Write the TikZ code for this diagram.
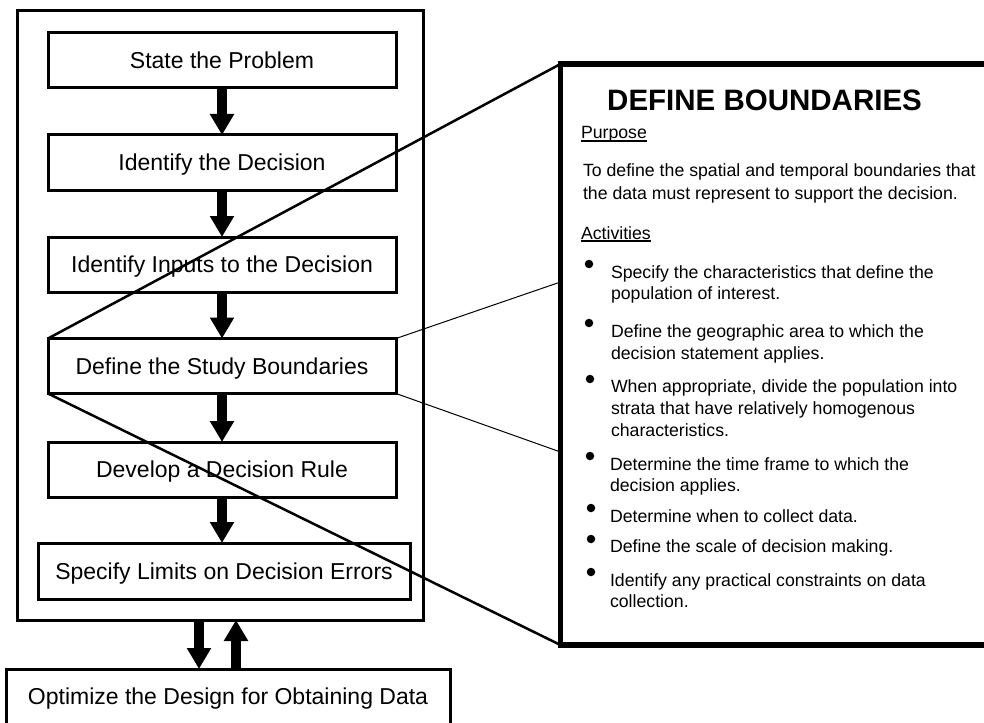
\documentclass[tikz,border=0pt]{standalone}
\usepackage{fontspec}
\setmainfont{Liberation Sans}
\usetikzlibrary{arrows.meta}
\begin{document}
\begin{tikzpicture}[x=1pt,y=-1pt,
  stepbox/.style={draw,line width=3pt,fill=white,minimum width=348pt,minimum height=55pt,
    inner sep=0pt,outer sep=0pt,font=\fontsize{23}{27}\selectfont,text height=16.5pt,text depth=0pt},
  flow/.style={line width=10pt,-{Triangle[width=23pt,length=21pt]}},
  body/.style={anchor=base west,inner sep=0pt,outer sep=0pt,font=\fontsize{17.7}{21.5}\selectfont},
  bdot/.style={circle,fill=black,inner sep=0pt,minimum size=8.5pt},
  zoomline/.style={line width=2.5pt},
  thinline/.style={line width=1pt},
  uline/.style={line width=1.2pt},
]
\useasboundingbox (0,0) rectangle (984,722);
\clip (0,0) rectangle (984,722);

% outer frame
\node[draw,line width=3pt,minimum width=406pt,minimum height=609pt,inner sep=0pt,outer sep=0pt] (outer) at (220,315.5) {};

% steps
\node[stepbox] (s1) at (222,60.5) {State the Problem};
\node[stepbox] (s2) at (222,162.5) {Identify the Decision};
\node[stepbox] (s3) at (222,264.5) {Identify Inputs to the Decision};
\node[stepbox] (s4) at (222,366) {Define the Study Boundaries};
\node[stepbox] (s5) at (222,469.5) {Develop a Decision Rule};
\node[stepbox,minimum width=372pt,minimum height=56pt] (s6) at (224,571) {Specify Limits on Decision Errors};
\node[stepbox,minimum width=444pt] (opt) at (228,696.5) {Optimize the Design for Obtaining Data};

% flow arrows
\coordinate (cx) at (222,0);
\draw[flow] (s1.south -| cx) -- (s2.north -| cx);
\draw[flow] (s2.south -| cx) -- (s3.north -| cx);
\draw[flow] (s3.south -| cx) -- (s4.north -| cx);
\draw[flow] (s4.south -| cx) -- (s5.north -| cx);
\draw[flow] (s5.south -| cx) -- (s6.north -| cx);
\coordinate (dn) at (199,0);
\coordinate (up) at (236,0);
\draw[flow] (outer.south -| dn) -- (opt.north -| dn);
\draw[flow] (opt.north -| up) -- (outer.south -| up);

% detail panel
\node[draw,line width=5.5pt,minimum width=440pt,minimum height=581pt,inner sep=0pt,outer sep=0pt] (panel) at (780.5,354.5) {};
\coordinate (pa) at (560.5,282);
\coordinate (pb) at (560.5,452);

% zoom lines
\draw[zoomline] (s4.north west) -- (panel.north west);
\draw[zoomline] (s4.south west) -- (panel.south west);
\draw[thinline] (s4.north east) -- (pa);
\draw[thinline] (s4.south east) -- (pb);

% panel text
\node[anchor=base west,inner sep=0pt,font=\fontsize{29.5}{34}\selectfont\bfseries] (title) at (607,111) {DEFINE BOUNDARIES};
\node[body] (purp) at (581,139) {Purpose};
\draw[uline] ([yshift=-2pt]purp.base west) -- ([yshift=-2pt]purp.base east);
\node[body] (pt1) at (583,177) {To define the spatial and temporal boundaries that};
\node[body] (pt2) at (583,199) {the data must represent to support the decision.};
\node[body] (act) at (581,239) {Activities};
\draw[uline] ([yshift=-2pt]act.base west) -- ([yshift=-2pt]act.base east);

\node[bdot] (d1) at (589,264) {};
\node[body] (a1a) at (611,278) {Specify the characteristics that define the};
\node[body] (a1b) at (611,299) {population of interest.};
\node[bdot] (d2) at (589,323) {};
\node[body] (a2a) at (611,337) {Define the geographic area to which the};
\node[body] (a2b) at (611,359) {decision statement applies.};
\node[bdot] (d3) at (590,379) {};
\node[body] (a3a) at (611,392) {When appropriate, divide the population into};
\node[body] (a3b) at (611,414) {strata that have relatively homogenous};
\node[body] (a3c) at (611,436) {characteristics.};
\node[bdot] (d4) at (590,456) {};
\node[body] (a4a) at (610,470) {Determine the time frame to which the};
\node[body] (a4b) at (610,491) {decision applies.};
\node[bdot] (d5) at (591,508) {};
\node[body] (a5a) at (610,522) {Determine when to collect data.};
\node[bdot] (d6) at (591,539) {};
\node[body] (a6a) at (610,552) {Define the scale of decision making.};
\node[bdot] (d7) at (591,572) {};
\node[body] (a7a) at (610,586) {Identify any practical constraints on data};
\node[body] (a7b) at (610,607) {collection.};
\end{tikzpicture}
\end{document}
